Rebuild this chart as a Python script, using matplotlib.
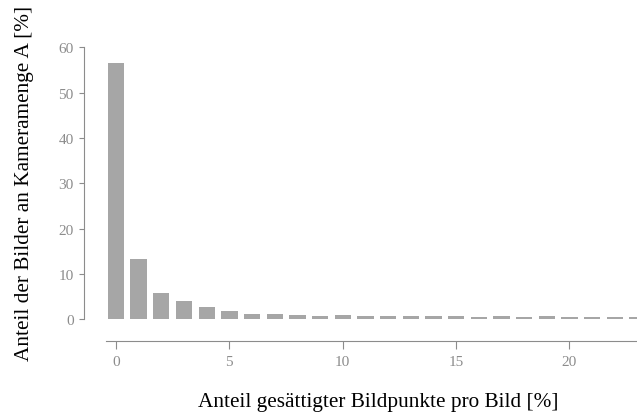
import matplotlib
matplotlib.use("Agg")
import matplotlib.pyplot as plt

# Data
x_values = list(range(24))
shares = [56.6, 13.3, 5.9, 4.05, 2.8, 1.9, 1.25, 1.08, 0.87, 0.8, 0.85,
          0.77, 0.75, 0.7, 0.7, 0.72, 0.52, 0.72, 0.52, 0.65, 0.52, 0.62,
          0.62, 0.48]
x_ticks = [0, 5, 10, 15, 20]
y_ticks = [0, 10, 20, 30, 40, 50, 60]
x_label = "Anteil gesättigter Bildpunkte pro Bild [%]"
y_label = "Anteil der Bilder an Kameramenge A [%]"

plt.rcParams['font.family'] = ['Liberation Serif', 'DejaVu Serif']

DPI = 100
fig = plt.figure(figsize=(6.37, 4.14), dpi=DPI)
ax = fig.add_axes([0.1664, 0.2263, 0.8336, 0.657])

ax.bar(x_values, shares, width=0.72, color='#a6a6a6', edgecolor='none')

ax.set_xlim(-0.44, 22.98)
ax.set_ylim(0, 60)
ax.set_xticks(x_ticks)
ax.set_yticks(y_ticks)

spine_color = '#8c8c8c'
for s in ['top', 'right']:
    ax.spines[s].set_visible(False)
offset_pt = 22 * 72 / DPI
ax.spines['left'].set_position(('outward', offset_pt))
ax.spines['bottom'].set_position(('outward', offset_pt))
for s in ['left', 'bottom']:
    ax.spines[s].set_color(spine_color)
    ax.spines[s].set_linewidth(0.8)

ax.tick_params(axis='x', length=6, width=0.8, color=spine_color,
               labelcolor='#8c8c8c', labelsize=11, pad=4)
ax.tick_params(axis='y', length=3.5, width=0.8, color=spine_color,
               labelcolor='#8c8c8c', labelsize=11, pad=4)

ax.set_xlabel(x_label, fontsize=15.3, color='black')
ax.xaxis.label.set_va('baseline')
ax.xaxis.set_label_coords(0.513, -0.319)

ax.set_ylabel(y_label, fontsize=15.3, color='black')
ax.yaxis.label.set_va('baseline')
ax.yaxis.set_label_coords(-0.145, 0.503)

fig.savefig("out.png", dpi=DPI)
